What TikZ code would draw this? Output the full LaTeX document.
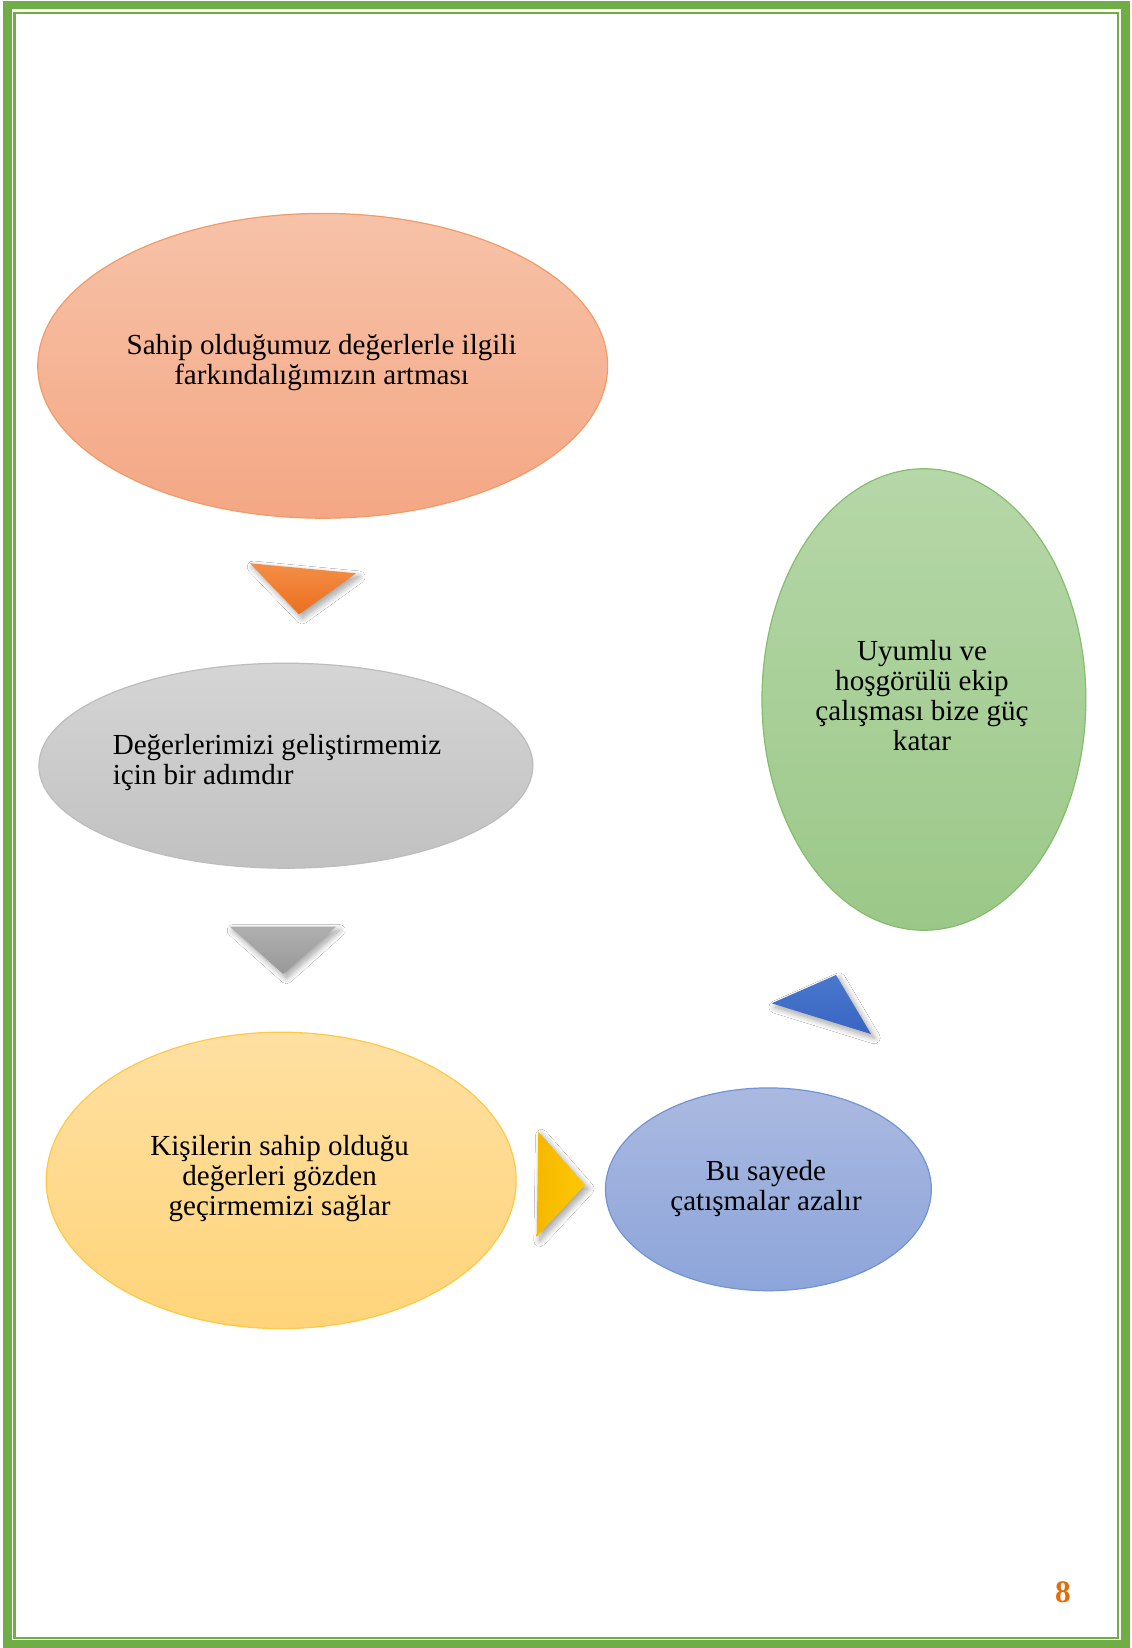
\documentclass[tikz,border=0pt]{standalone}
\usepackage{fontspec}
\setmainfont{Liberation Serif}
\usetikzlibrary{shapes.geometric,shadows.blur}

\definecolor{frameGreen}{HTML}{70AD47}
\definecolor{pageOrange}{HTML}{E36C0A}
\definecolor{peachTop}{HTML}{F7C2A8}
\definecolor{peachBot}{HTML}{F4A784}
\definecolor{peachLine}{HTML}{F29B66}
\definecolor{greyTop}{HTML}{D5D5D5}
\definecolor{greyBot}{HTML}{C1C1C1}
\definecolor{greyLine}{HTML}{BDBDBD}
\definecolor{sandTop}{HTML}{FFE0A2}
\definecolor{sandBot}{HTML}{FFD47A}
\definecolor{sandLine}{HTML}{FFC845}
\definecolor{skyTop}{HTML}{AAB9E0}
\definecolor{skyBot}{HTML}{8DA5DA}
\definecolor{skyLine}{HTML}{7293D6}
\definecolor{leafTop}{HTML}{B6D7A8}
\definecolor{leafBot}{HTML}{9BC888}
\definecolor{leafLine}{HTML}{85BD6E}
\definecolor{arrOrangeTop}{HTML}{F48E47}
\definecolor{arrOrangeBot}{HTML}{EC6F1E}
\definecolor{arrGreyTop}{HTML}{AFAFAF}
\definecolor{arrGreyBot}{HTML}{999999}
\definecolor{arrGoldL}{HTML}{F5B800}
\definecolor{arrGoldR}{HTML}{FFC800}
\definecolor{arrBlueTop}{HTML}{4A78CF}
\definecolor{arrBlueBot}{HTML}{3765C0}

\begin{document}
\begin{tikzpicture}[x=0.75pt,y=-0.75pt,
  bubble/.style={ellipse, draw, line width=0.9pt, inner sep=0pt, outer sep=0pt},
  caption/.style={font=\fontsize{21.8}{22.5}\selectfont, align=center, inner sep=0pt, text=black},
  pointer/.style={blur shadow={shadow xshift=2.4pt, shadow yshift=-2.8pt,
      shadow blur steps=14, shadow blur radius=4.5pt, shadow opacity=38}}]

\useasboundingbox (0,0) rectangle (1131,1648);
\fill[white] (0,0) rectangle (1131,1648);

% double page frame
\draw[frameGreen, line width=6.2pt] (7.5,4.8) rectangle (1125.5,1644.5);
\draw[frameGreen, line width=1.9pt] (14.7,13) rectangle (1118,1638);

% ellipses
\node[bubble, draw=peachLine, top color=peachTop, bottom color=peachBot,
      minimum width=427.4pt, minimum height=228.6pt] (aware) at (322.7,365.8) {};
\node[bubble, draw=greyLine, top color=greyTop, bottom color=greyBot,
      minimum width=370.5pt, minimum height=153.75pt] (grow) at (285.9,765.7) {};
\node[bubble, draw=sandLine, top color=sandTop, bottom color=sandBot,
      minimum width=352.4pt, minimum height=222.3pt] (review) at (281.2,1180.4) {};
\node[bubble, draw=skyLine, top color=skyTop, bottom color=skyBot,
      minimum width=244.4pt, minimum height=152.1pt] (calm) at (768.4,1189.3) {};
\node[bubble, draw=leafLine, top color=leafTop, bottom color=leafBot,
      minimum width=242.9pt, minimum height=346.1pt] (team) at (923.9,699.5) {};

% texts
\node[caption] (awareTxt) at (321.6,362.5) {Sahip olduğumuz değerlerle ilgili\\farkındalığımızın artması};
\node[caption, align=left, anchor=west] (growTxt) at (112.5,763) {Değerlerimizi geliştirmemiz\\için bir adımdır};
\node[caption] (reviewTxt) at (279.6,1178.5) {Kişilerin sahip olduğu\\değerleri gözden\\geçirmemizi sağlar};
\node[caption] (calmTxt) at (766,1188) {Bu sayede\\çatışmalar azalır};
\node[caption] (teamTxt) at (922,696) {Uyumlu ve\\hoşgörülü ekip\\çalışması bize güç\\katar};

% pointers between the steps
\path[pointer, top color=arrOrangeTop, bottom color=arrOrangeBot] (250,563.3) -- (356,573.3) -- (299,614.3) -- cycle;
\path[pointer, top color=arrGreyTop, bottom color=arrGreyBot] (230,926.7) -- (336,926.7) -- (283.3,974) -- cycle;
\path[pointer, left color=arrGoldL, right color=arrGoldR] (538.3,1131.7) -- (585,1185) -- (536.7,1236.7) -- cycle;
\path[pointer, top color=arrBlueTop, bottom color=arrBlueBot] (771.7,1003.3) -- (836,975) -- (871,1034) -- cycle;

% page number
\node[font=\bfseries\fontsize{23.5}{24}\selectfont, text=pageOrange, inner sep=0pt] (pageNo) at (1063,1592) {8};
\end{tikzpicture}
\end{document}
